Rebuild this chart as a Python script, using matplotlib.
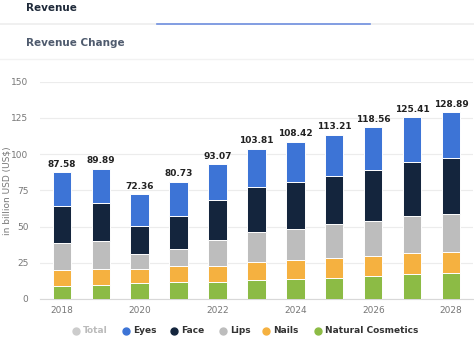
import matplotlib.pyplot as plt
import numpy as np

years = [2018, 2019, 2020, 2021, 2022, 2023, 2024, 2025, 2026, 2027, 2028]
totals = [87.58, 89.89, 72.36, 80.73, 93.07, 103.81, 108.42, 113.21, 118.56, 125.41, 128.89]

natural = [9.2, 9.9, 10.8, 11.7, 11.7, 12.9, 13.8, 14.7, 16.1, 17.0, 17.9]
nails = [10.8, 11.0, 9.9, 11.1, 11.1, 12.6, 12.9, 13.4, 13.4, 14.5, 14.5]
lips = [18.6, 19.1, 10.3, 11.5, 17.9, 21.0, 21.8, 23.4, 24.1, 26.0, 26.5]
face = [25.8, 26.0, 19.2, 22.7, 27.8, 30.6, 32.2, 33.2, 35.2, 37.3, 38.6]
eyes = [23.18, 23.89, 22.16, 23.73, 24.57, 26.71, 27.72, 28.51, 29.76, 30.61, 31.39]

series = [("Natural Cosmetics", natural, "#8cbb45"),
          ("Nails", nails, "#f5b140"),
          ("Lips", lips, "#bdbdbd"),
          ("Face", face, "#14253d"),
          ("Eyes", eyes, "#3d74d6")]

fig = plt.figure(figsize=(4.74, 3.41), dpi=100)
ax = fig.add_axes([0.085, 0.1232, 0.912, 0.6372])

x = np.arange(len(years))
bottom = np.zeros(len(years))
for name, vals, col in series:
    ax.bar(x, vals, 0.47, bottom=bottom, color=col, edgecolor="white", linewidth=0.7, zorder=3)
    bottom += np.array(vals)

for xi, t in zip(x, totals):
    ax.text(xi, t + 2.5, f"{t:.2f}", ha="center", va="bottom", fontsize=6.5,
            fontweight="bold", color="#222222", clip_on=False)

ax.set_xlim(-0.55, 10.55)
ax.set_ylim(0, 150)
ax.set_yticks([0, 25, 50, 75, 100, 125, 150])
ax.set_xticks(x[::2])
ax.set_xticklabels([str(y) for y in years[::2]])
ax.tick_params(length=0, labelsize=6.5, colors="#777777")
ax.tick_params(axis="y", pad=8.5)
ax.tick_params(axis="x", pad=5)
ax.grid(axis="y", color="#ececec", linewidth=0.8, zorder=0)
for s in ["top", "right", "left"]:
    ax.spines[s].set_visible(False)
ax.spines["bottom"].set_color("#d8d8d8")
ax.set_ylabel("in billion USD (US$)", fontsize=6.5, color="#777777")
ax.yaxis.set_label_coords(-0.066, 0.5)

# header tabs
fig.text(0.055, 0.978, "Revenue", fontsize=7.5, fontweight="bold", color="#1f2a3a", va="center")
fig.add_artist(plt.Line2D([0, 1], [0.929, 0.929], color="#eeeeee", linewidth=1.2))
fig.add_artist(plt.Line2D([0.332, 0.78], [0.929, 0.929], color="#6f8fe0", linewidth=1.2))
fig.text(0.055, 0.873, "Revenue Change", fontsize=7.5, fontweight="bold", color="#4f5b6e", va="center")
fig.add_artist(plt.Line2D([0, 1], [0.826, 0.826], color="#f2f2f2", linewidth=1.0))

# legend
legend_items = [("Total", "#cccccc", "#bbbbbb"), ("Eyes", "#3d74d6", "#333333"),
                ("Face", "#14253d", "#333333"), ("Lips", "#bdbdbd", "#333333"),
                ("Nails", "#f5b140", "#333333"), ("Natural Cosmetics", "#8cbb45", "#333333")]
marker_x = [76, 126, 174, 223, 266, 318]
for (name, mc, tc), mx in zip(legend_items, marker_x):
    fig.add_artist(plt.Line2D([mx / 474], [1 - 330.5 / 341], marker="o", markersize=5,
                              color=mc, linestyle=""))
    fig.text((mx + 7) / 474, 1 - 330.5 / 341, name, fontsize=6.5, fontweight="bold",
             color=tc, va="center")

fig.savefig("out.png", dpi=100)
